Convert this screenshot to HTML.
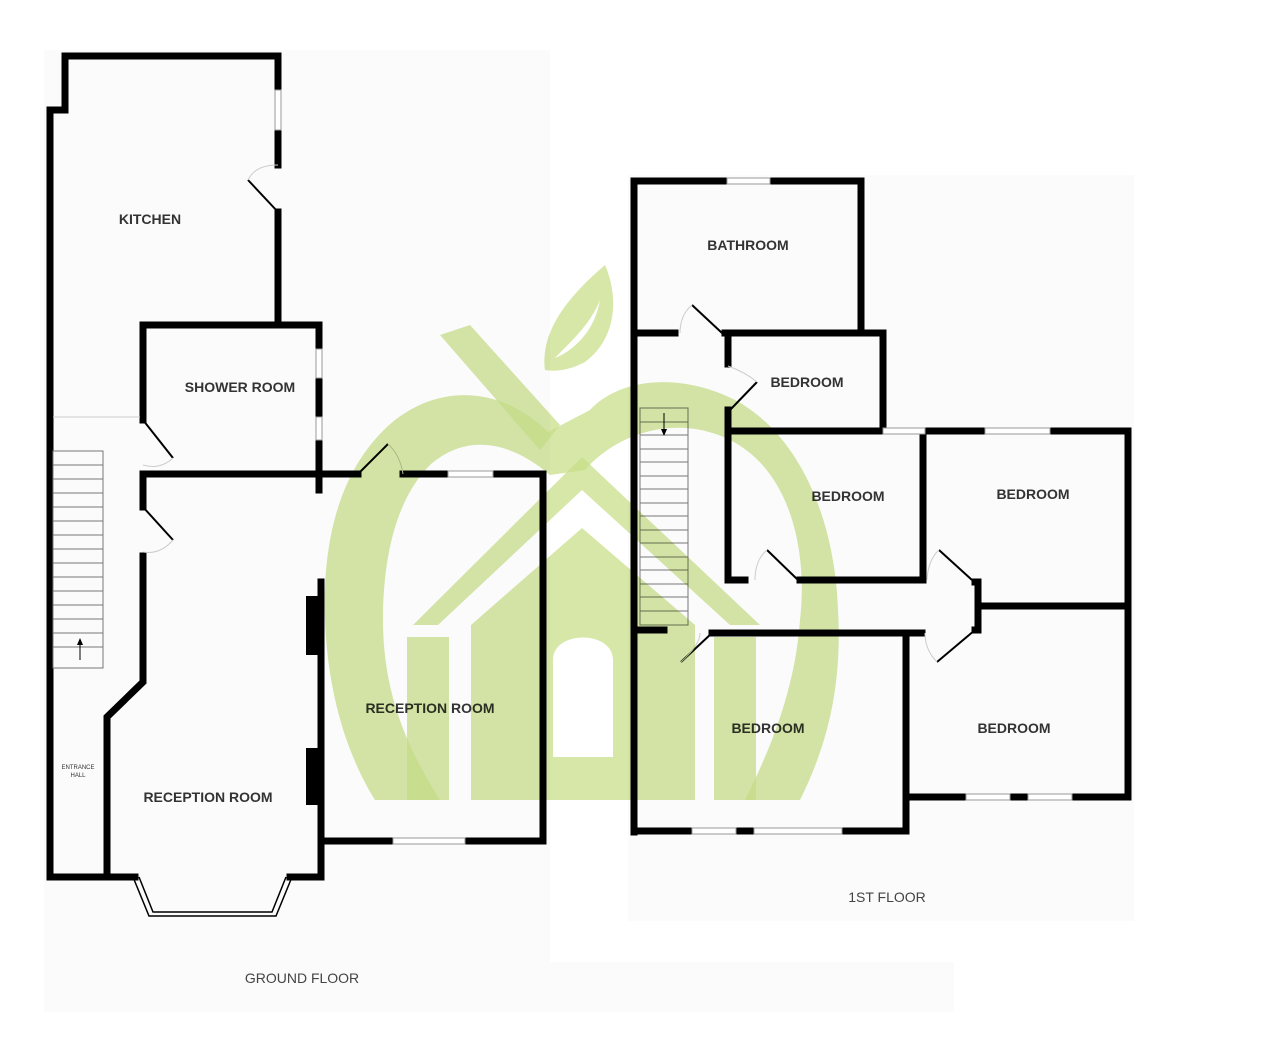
<!DOCTYPE html>
<html><head><meta charset="utf-8"><style>
html,body{margin:0;padding:0;background:#fff;}
svg{display:block;}
text{font-family:"Liberation Sans",Arial,sans-serif;font-weight:bold;fill:#333;font-size:14px;text-anchor:middle;}
.t{font-weight:normal;fill:#444;}
</style></head><body>
<svg width="1280" height="1044" viewBox="0 0 1280 1044" xmlns="http://www.w3.org/2000/svg">
<rect width="1280" height="1044" fill="#fff"/>
<rect x="44" y="50" width="506" height="912" fill="#fbfbfb"/>
<rect x="44" y="962" width="910" height="50" fill="#fbfbfb"/>
<rect x="628" y="175" width="506" height="746" fill="#fbfbfb"/>

<g stroke="#000" stroke-width="7" fill="none" stroke-linecap="square">
<polyline points="278,90 278,56 65,56 65,110 50,110 50,877 135,877"/>
<line x1="278" y1="130" x2="278" y2="165"/>
<line x1="278" y1="212" x2="278" y2="325"/>
<polyline points="143,420 143,325 319,325 319,349"/>
<line x1="319" y1="378" x2="319" y2="417"/>
<line x1="319" y1="440" x2="319" y2="474"/>
<polyline points="143,507 143,474 358,474"/>
<line x1="319" y1="474" x2="319" y2="490"/>
<line x1="403" y1="474" x2="448" y2="474"/>
<polyline points="493,474 543,474 543,841 465,841"/>
<line x1="393" y1="841" x2="321" y2="841"/>
<polyline points="143,556 143,682 107,717 107,877"/>
<line x1="321" y1="582" x2="321" y2="877"/>
<line x1="290" y1="877" x2="321" y2="877"/>
<polyline points="634,832 634,181 727,181"/>
<polyline points="770,181 861,181 861,333"/>
<line x1="638" y1="333" x2="675" y2="333"/>
<polyline points="725,333 883,333 883,431"/>
<line x1="728" y1="336" x2="728" y2="364"/>
<polyline points="728,410 728,580 745,580"/>
<line x1="728" y1="431" x2="883" y2="431"/>
<line x1="925" y1="431" x2="985" y2="431"/>
<polyline points="1050,431 1128,431 1128,797 1072,797"/>
<line x1="800" y1="580" x2="923" y2="580"/>
<line x1="923" y1="431" x2="923" y2="580"/>
<polyline points="975,582 978,582 978,630 975,630"/>
<line x1="980" y1="606" x2="1128" y2="606"/>
<line x1="712" y1="633" x2="922" y2="633"/>
<line x1="640" y1="630" x2="664" y2="630"/>
<polyline points="906,633 906,831 842,831"/>
<line x1="754" y1="831" x2="736" y2="831"/>
<polyline points="692,831 634,831"/>
<polyline points="906,797 966,797"/>
<line x1="1010" y1="797" x2="1028" y2="797"/>
</g>
<rect x="306" y="596" width="14" height="59" fill="#000"/>
<rect x="306" y="748" width="14" height="57" fill="#000"/>
<g fill="#fff" stroke="#999" stroke-width="1">
<rect x="275" y="90" width="6" height="40"/>
<rect x="316" y="349" width="6" height="29"/>
<rect x="316" y="417" width="6" height="23"/>
<rect x="448" y="471" width="45" height="6"/>
<rect x="393" y="838" width="72" height="6"/>
<rect x="727" y="178" width="43" height="6"/>
<rect x="883" y="428" width="42" height="6"/>
<rect x="985" y="428" width="65" height="6"/>
<rect x="692" y="828" width="44" height="6"/>
<rect x="754" y="828" width="88" height="6"/>
<rect x="966" y="794" width="44" height="6"/>
<rect x="1028" y="794" width="44" height="6"/>
</g>
<g stroke="#000" stroke-width="1.5" fill="none">
<polyline points="133,877 149,916 276,916 292,877"/>
<polyline points="139,877 153,912 272,912 286,877"/>
</g>
<g stroke="#000" stroke-width="2" fill="none">
<line x1="278" y1="212" x2="248" y2="180"/>
<line x1="143" y1="420" x2="173" y2="458"/>
<line x1="143" y1="507" x2="173" y2="540"/>
<line x1="358" y1="474" x2="388" y2="444"/>
<line x1="722" y1="333" x2="692" y2="305"/>
<line x1="730" y1="410" x2="757" y2="382"/>
<line x1="798" y1="580" x2="767" y2="550"/>
<line x1="972" y1="580" x2="939" y2="550"/>
<line x1="975" y1="630" x2="937" y2="662"/>
<line x1="712" y1="633" x2="681" y2="662"/>
</g>
<g stroke="#ccc" stroke-width="1" fill="none">
<path d="M248,180 Q255,165 278,165"/><path d="M173,458 Q160,470 143,465"/>
<path d="M173,540 Q160,555 143,552"/><path d="M388,444 Q400,455 403,474"/>
<path d="M692,305 Q680,315 680,333"/><path d="M757,382 Q745,372 728,366"/>
<path d="M767,550 Q755,560 755,580"/><path d="M939,550 Q928,560 927,580"/>
<path d="M937,662 Q925,650 925,633"/><path d="M681,662 Q700,645 700,633"/>
<line x1="53" y1="417" x2="140" y2="417"/>
</g>
<g stroke="#777" stroke-width="1" fill="none">
<rect x="53" y="451" width="50" height="217"/>
<path d="M53,465H103M53,479H103M53,493H103M53,507H103M53,521H103M53,535H103M53,549H103M53,563H103M53,577H103M53,591H103M53,605H103M53,619H103M53,633H103M53,647H103"/>
<rect x="640" y="408" width="48" height="217"/>
<path d="M640,422H688M640,435H688M640,449H688M640,462H688M640,476H688M640,489H688M640,503H688M640,516H688M640,530H688M640,543H688M640,557H688M640,570H688M640,584H688M640,597H688M640,611H688"/>
<line x1="80" y1="640" x2="80" y2="660" stroke="#000"/>
<line x1="664" y1="413" x2="664" y2="432" stroke="#000"/>
</g>
<path d="M77,645 L80,638 L83,645Z" fill="#000"/>
<path d="M661,429 L664,436 L667,429Z" fill="#000"/>
<text x="150" y="224">KITCHEN</text>
<text x="240" y="392">SHOWER ROOM</text>
<text x="208" y="802">RECEPTION ROOM</text>
<text x="430" y="713">RECEPTION ROOM</text>
<text x="78" y="769" style="font-size:6px;font-weight:normal">ENTRANCE</text>
<text x="78" y="777" style="font-size:6px;font-weight:normal">HALL</text>
<text x="748" y="250">BATHROOM</text>
<text x="807" y="387">BEDROOM</text>
<text x="848" y="501">BEDROOM</text>
<text x="1033" y="499">BEDROOM</text>
<text x="768" y="733">BEDROOM</text>
<text x="1014" y="733">BEDROOM</text>
<text class="t" x="302" y="983">GROUND FLOOR</text>
<text class="t" x="887" y="902">1ST FLOOR</text>
<g fill="#c6de86" fill-opacity="0.72" style="mix-blend-mode:multiply">
<clipPath id="cb"><rect x="0" y="0" width="1280" height="800"/></clipPath>
<g clip-path="url(#cb)">
<path fill-rule="evenodd" d="M548,432 C500,385 440,385 395,420 C340,465 322,540 325,620 C328,700 350,760 375,800 L440,800 C405,745 383,690 383,620 C383,560 395,500 430,465 C470,430 515,445 550,475 L585,470 C620,430 680,415 730,440 C790,470 808,550 800,620 C795,690 770,750 745,800 L800,800 C830,740 842,680 838,610 C835,520 800,435 735,400 C680,372 620,378 590,410 Z"/>
</g>
<path d="M440,335 L470,325 L560,425 L540,450 Z"/>
<path d="M545,370 C540,330 570,295 605,265 C620,300 615,340 585,362 C570,370 555,372 545,370 Z M555,358 C575,350 595,330 600,300 C590,325 572,340 555,358Z" fill-rule="evenodd"/>
<path d="M582,457 L760,625 L730,625 L582,490 L438,625 L413,625 Z"/>
<path d="M582,528 L695,625 L695,800 L471,800 L471,625 Z M553,757 L613,757 L613,660 C613,630 553,630 553,660 Z" fill-rule="evenodd"/>
<rect x="407" y="637" width="42" height="163"/>
<rect x="714" y="637" width="42" height="163"/>
</g>
</svg>
</body></html>
